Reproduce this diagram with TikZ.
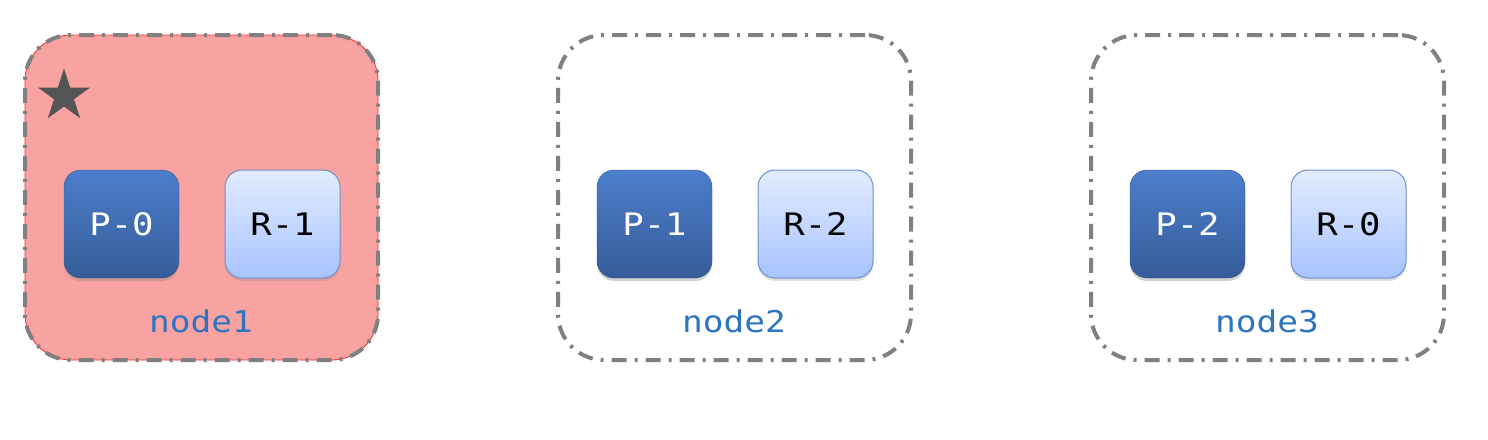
\documentclass[tikz,border=0pt]{standalone}
\usepackage{fontspec}
\usetikzlibrary{shapes.geometric,shadows}
\newfontfamily\monofnt[FakeStretch=1.15]{DejaVu Sans Mono}
\definecolor{pinkfill}{RGB}{249,162,162}
\definecolor{dashgray}{RGB}{128,128,128}
\definecolor{ptop}{RGB}{76,126,204}
\definecolor{pbot}{RGB}{54,92,152}
\definecolor{rtop}{RGB}{226,236,255}
\definecolor{rbot}{RGB}{168,195,255}
\definecolor{rborder}{RGB}{112,142,205}
\definecolor{lblue}{RGB}{46,117,192}
\definecolor{stargray}{RGB}{85,85,85}
\tikzset{
  hostbox/.style={draw=dashgray, line width=4pt, rounded corners=46pt,
    dash pattern=on 15pt off 8pt on 3pt off 8pt,
    minimum width=353pt, minimum height=325pt, inner sep=0pt, outer sep=0pt},
  pbox/.style={rounded corners=17pt, minimum width=115pt, minimum height=108pt,
    top color=ptop, bottom color=pbot, draw=pbot!90!black, line width=0.4pt,
    text=white, font=\monofnt\fontsize{31}{31}\selectfont,
    drop shadow={opacity=0.35, shadow xshift=0pt, shadow yshift=-3pt}},
  rbox/.style={rounded corners=17pt, minimum width=115pt, minimum height=108pt,
    top color=rtop, bottom color=rbot, draw=rborder, line width=1pt,
    text=black, font=\monofnt\fontsize{31}{31}\selectfont,
    drop shadow={opacity=0.25, shadow xshift=0pt, shadow yshift=-3pt}},
  hostlabel/.style={text=lblue, font=\monofnt\fontsize{30}{30}\selectfont, inner sep=0pt},
}
\begin{document}
\begin{tikzpicture}[x=1pt,y=-1pt]
\useasboundingbox (0,0) rectangle (1488,439);
\fill[white] (0,0) rectangle (1488,439);
% host 1 (highlighted)
\node[minimum width=353pt, minimum height=325pt, rounded corners=46pt, inner sep=0pt,
      fill=pinkfill, draw=red!85, line width=0.8pt] (h1bg) at (201.5,197.5) {};
\node[hostbox] (h1) at (201.5,197.5) {};
\node[hostbox] (h2) at (734.5,197.5) {};
\node[hostbox] (h3) at (1267.5,197.5) {};
\node[star, star points=5, star point ratio=2.618, minimum size=55pt, inner sep=0pt,
      fill=stargray] (st) at (64,96) {};
\node[pbox] (p0) at (121.5,224) {P-0};
\node[rbox] (r1) at (282.5,224) {R-1};
\node[hostlabel] (l1) at (201,321) {node1};
\node[pbox] (p1) at (654.5,224) {P-1};
\node[rbox] (r2) at (815.5,224) {R-2};
\node[hostlabel] (l2) at (734,321) {node2};
\node[pbox] (p2) at (1187.5,224) {P-2};
\node[rbox] (r0) at (1348.5,224) {R-0};
\node[hostlabel] (l3) at (1267,321) {node3};
\end{tikzpicture}
\end{document}
